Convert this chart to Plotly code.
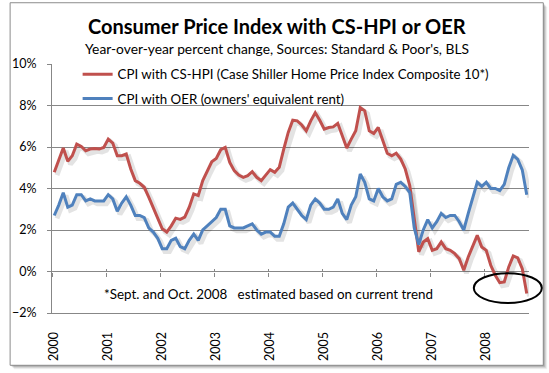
import numpy as np
import plotly.graph_objects as go

# ---------------- data ----------------
years = ["2000", "2001", "2002", "2003", "2004", "2005", "2006", "2007", "2008"]

# CPI year-over-year % change (with owners' equivalent rent), Jan 2000 - Oct 2008
cpi_oer = [
    2.7, 3.2, 3.8, 3.1, 3.2, 3.7, 3.7, 3.4, 3.5, 3.4, 3.4, 3.4,
    3.7, 3.5, 2.9, 3.3, 3.6, 3.2, 2.7, 2.7, 2.6, 2.1, 1.9, 1.6,
    1.1, 1.1, 1.5, 1.6, 1.2, 1.1, 1.5, 1.8, 1.5, 2.0, 2.2, 2.4,
    2.6, 3.0, 3.0, 2.2, 2.1, 2.1, 2.1, 2.2, 2.3, 2.0, 1.8, 1.9,
    1.9, 1.7, 1.7, 2.3, 3.1, 3.3, 3.0, 2.7, 2.5, 3.2, 3.5, 3.3,
    3.0, 3.0, 3.1, 3.5, 2.8, 2.5, 3.2, 3.6, 4.7, 4.3, 3.5, 3.4,
    4.0, 3.6, 3.4, 3.5, 4.2, 4.3, 4.1, 3.8, 2.1, 1.3, 2.0, 2.5,
    2.1, 2.4, 2.8, 2.6, 2.7, 2.7, 2.4, 2.0, 2.8, 3.5, 4.3, 4.1,
    4.3, 4.0, 4.0, 3.9, 4.2, 5.0, 5.6, 5.4, 4.9, 3.7,
]

# CPI year-over-year % change with Case-Shiller HPI Composite 10 in place of OER
cpi_cshpi = [
    4.78, 5.34, 5.95, 5.31, 5.58, 6.14, 6.03, 5.82, 5.90, 5.93, 5.90, 5.98,
    6.38, 6.19, 5.58, 5.58, 5.66, 4.94, 4.38, 4.25, 4.06, 3.58, 3.10, 2.54,
    2.06, 1.90, 2.20, 2.57, 2.51, 2.62, 3.10, 3.74, 3.66, 4.38, 4.86, 5.29,
    5.45, 5.87, 5.98, 5.26, 4.86, 4.65, 4.54, 4.62, 4.81, 4.54, 4.38, 4.62,
    4.91, 4.78, 5.02, 5.90, 6.70, 7.29, 7.26, 7.06, 6.78, 7.26, 7.65, 7.29,
    6.86, 6.94, 6.97, 7.14, 6.54, 5.95, 6.38, 6.78, 7.90, 7.74, 6.78, 6.65,
    6.94, 6.30, 5.70, 5.58, 5.70, 5.42, 4.94, 4.14, 2.60, 0.95, 1.42, 1.58,
    1.02, 1.10, 1.42, 1.10, 1.02, 0.86, 0.62, 0.06, 0.70, 1.26, 1.74, 1.18,
    1.02, 0.30, -0.18, -0.54, -0.50, 0.22, 0.75, 0.66, 0.14, -1.06,
]

name_hpi = "CPI with CS-HPI (Case Shiller Home Price Index Composite 10*)"
name_oer = "CPI with OER (owners' equivalent rent)"
note = "*Sept. and Oct. 2008\u00a0\u00a0 estimated based on current trend"

# ---------------- figure ----------------
W, H = 549, 373
ML, MR, MT, MB = 45, 20, 64, 59
PW, PH = W - ML - MR, H - MT - MB

def px(x):
    return (x - ML) / PW

def py(y):
    return (H - MB - y) / PH

FONT = "Lato"
RED = "#C0504D"
BLUE = "#4F81BD"
GRID = "#878787"

n = len(cpi_oer)
x = np.arange(n)

fig = go.Figure()

# soft drop shadows under the lines
for vals in (cpi_cshpi, cpi_oer):
    fig.add_trace(go.Scatter(
        x=x + 0.6, y=np.array(vals) - 0.14, mode="lines",
        line=dict(color="rgba(0,0,0,0.11)", width=5),
        hoverinfo="skip", showlegend=False,
    ))

fig.add_trace(go.Scatter(
    x=x, y=cpi_cshpi, mode="lines", name=name_hpi, legendgroup="a",
    line=dict(color=RED, width=3),
))
fig.add_trace(go.Scatter(
    x=x, y=cpi_oer, mode="lines", name=name_oer, legendgroup="b",
    line=dict(color=BLUE, width=3),
))

# invisible traces for the tick-mark axes at 0%
for ax in ("x2", "x3"):
    fig.add_trace(go.Scatter(x=[x[0]], y=[0], xaxis=ax, mode="markers",
                             marker=dict(opacity=0), hoverinfo="skip",
                             showlegend=False))

xr = [-0.5, n - 0.5]
zero_pos = (0 - (-2)) / (10 - (-2))

fig.update_layout(
    width=W, height=H,
    margin=dict(l=ML, r=MR, t=MT, b=MB),
    paper_bgcolor="white",
    plot_bgcolor="rgba(0,0,0,0)",
    font=dict(family=FONT, size=13, color="black"),
    showlegend=True,
    legend=dict(
        x=px(71), y=py(59), xanchor="left", yanchor="top",
        bgcolor="rgba(0,0,0,0)", font=dict(size=13.3, family=FONT),
        tracegroupgap=4, itemwidth=30,
    ),
    xaxis=dict(
        range=xr, showgrid=False, zeroline=False,
        tickmode="array", tickvals=[12 * k for k in range(len(years))],
        ticktext=years, tickangle=-90, ticks="",
        ticklabelstandoff=13,
        showline=True, linecolor=GRID, linewidth=1,
        tickfont=dict(size=12.5, family=FONT),
    ),
    xaxis2=dict(
        range=xr, overlaying="x", anchor="free", position=zero_pos,
        showgrid=False, zeroline=False, showline=False, showticklabels=False,
        tickmode="linear", tick0=11.5, dtick=12,
        ticks="outside", ticklen=4, tickcolor=GRID, tickwidth=1,
    ),
    xaxis3=dict(
        range=xr, overlaying="x", anchor="free", position=zero_pos,
        showgrid=False, zeroline=False, showline=False, showticklabels=False,
        tickmode="linear", tick0=11.5, dtick=12,
        ticks="inside", ticklen=3, tickcolor=GRID, tickwidth=1,
    ),
    yaxis=dict(
        range=[-2, 10], dtick=2, tick0=-2, ticksuffix="%",
        showgrid=True, gridcolor=GRID, gridwidth=1, zeroline=False,
        showline=True, linecolor=GRID, linewidth=1,
        ticks="outside", ticklen=4, tickcolor=GRID,
        ticklabelstandoff=8,
        tickfont=dict(size=12.5, family=FONT),
    ),
)

# titles
fig.add_annotation(
    text="<b>Consumer Price Index with CS-HPI or OER</b>",
    xref="paper", yref="paper", x=px(273), y=py(26),
    xanchor="center", yanchor="middle", showarrow=False,
    font=dict(size=20, family=FONT, color="black"),
)
fig.add_annotation(
    text="Year-over-year percent change, Sources: Standard &amp; Poor's, BLS",
    xref="paper", yref="paper", x=px(273), y=py(48),
    xanchor="center", yanchor="middle", showarrow=False,
    font=dict(size=13.8, family=FONT, color="black"),
)
fig.add_annotation(
    text=note, xref="paper", yref="paper", x=px(96), y=py(295),
    xanchor="left", yanchor="middle", showarrow=False,
    font=dict(size=13.4, family=FONT, color="black"),
)

# chart-area frame with shadow
x0f, x1f, y0f, y1f = px(2.5), px(543.5), py(366.5), py(2.5)
for k, a in ((4, 0.06), (3, 0.09), (2, 0.12), (1, 0.16)):
    fig.add_shape(type="rect", xref="paper", yref="paper",
                  x0=px(2.5 + k), x1=px(543.5 + k), y0=py(366.5 + k), y1=py(2.5 + k),
                  line=dict(width=0), fillcolor=f"rgba(0,0,0,{a})", layer="below")
fig.add_shape(type="rect", xref="paper", yref="paper",
              x0=x0f, x1=x1f, y0=y0f, y1=y1f,
              line=dict(color="#8C8C8C", width=1), fillcolor="white", layer="below")

# ellipse around the estimated months
fig.add_shape(type="circle", xref="paper", yref="paper",
              x0=px(473), x1=px(542), y0=py(304), y1=py(274),
              line=dict(color="black", width=2))

fig.write_html(
    "out.html",
    config={"displayModeBar": False},
    post_script="document.body.style.margin='0px';document.body.style.overflow='hidden';",
)
